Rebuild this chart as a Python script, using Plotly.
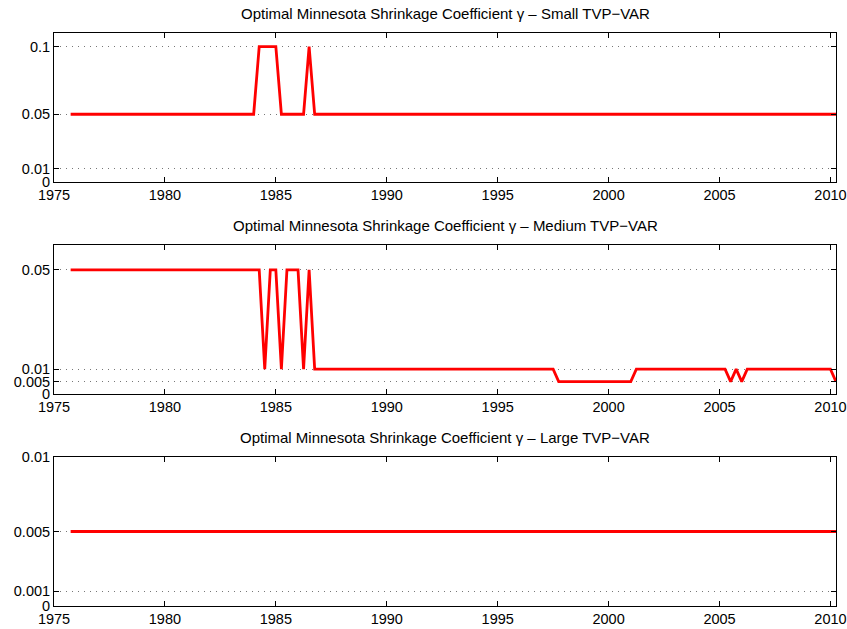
import plotly.graph_objects as go

# Quarterly dates 1975Q4 .. 2010Q2
dates = [1975.75 + 0.25 * i for i in range(139)]

# run-length encoded values (value, number of quarters)
small_runs = [(0.05, 34), (0.1, 4), (0.05, 5), (0.1, 1), (0.05, 95)]
medium_runs = [(0.05, 35), (0.01, 1), (0.05, 2), (0.01, 1), (0.05, 3), (0.01, 1),
               (0.05, 1), (0.01, 44), (0.005, 14), (0.01, 17), (0.005, 1),
               (0.01, 1), (0.005, 1), (0.01, 16), (0.005, 1)]
large_runs = [(0.005, 139)]


def expand(runs):
    out = []
    for v, n in runs:
        out += [v] * n
    return out


small = expand(small_runs)
medium = expand(medium_runs)
large = expand(large_runs)

titles = ["Optimal Minnesota Shrinkage Coefficient γ – Small TVP−VAR",
          "Optimal Minnesota Shrinkage Coefficient γ – Medium TVP−VAR",
          "Optimal Minnesota Shrinkage Coefficient γ – Large TVP−VAR"]
yticks = [[0, 0.01, 0.05, 0.1], [0, 0.005, 0.01, 0.05], [0, 0.001, 0.005, 0.01]]
yticktext = [["0", "0.01", "0.05", "0.1"], ["0", "0.005", "0.01", "0.05"],
             ["0", "0.001", "0.005", "0.01"]]
yranges = [[0, 0.11], [0, 0.06], [0, 0.01]]
xticks = [1975, 1980, 1985, 1990, 1995, 2000, 2005, 2010]
xrange_ = [1975, 2010.25]

series = [small, medium, large]
domains = [[0.74, 1.0], [0.37, 0.63], [0.0, 0.26]]

FONT = "Liberation Sans, Arial, Helvetica, sans-serif"
fig = go.Figure()
layout = dict(
    width=847, height=629,
    margin=dict(l=54, r=11, t=33, b=23, autoexpand=False),
    paper_bgcolor="white", plot_bgcolor="white",
    showlegend=False,
    font=dict(family=FONT, size=13, color="black"),
    annotations=[],
)
for i in range(3):
    xa = "x" if i == 0 else f"x{i+1}"
    ya = "y" if i == 0 else f"y{i+1}"
    fig.add_trace(go.Scatter(x=dates, y=series[i], mode="lines",
                             line=dict(color="#ff0000", width=2.8),
                             xaxis=xa, yaxis=ya, hoverinfo="skip"))
    xkey = "xaxis" if i == 0 else f"xaxis{i+1}"
    ykey = "yaxis" if i == 0 else f"yaxis{i+1}"
    layout[xkey] = dict(
        domain=[0, 1], anchor=ya, range=xrange_, automargin=False,
        tickmode="array", tickvals=xticks, ticktext=[str(t) for t in xticks],
        ticks="inside", ticklen=5, tickcolor="black",
        showline=True, linecolor="black", linewidth=1, mirror="ticks",
        showgrid=False, zeroline=False,
        tickfont=dict(size=14.5, family=FONT, color="black"),
    )
    layout[ykey] = dict(
        domain=domains[i], anchor=xa, range=yranges[i], automargin=False,
        tickmode="array", tickvals=yticks[i], ticktext=yticktext[i],
        ticks="inside", ticklen=5, tickcolor="black",
        showline=True, linecolor="black", linewidth=1, mirror="ticks",
        showgrid=True, gridcolor="#777777", griddash="1px,5px", gridwidth=1,
        zeroline=False,
        tickfont=dict(size=14.5, family=FONT, color="black"),
    )
    layout["annotations"].append(dict(
        text=titles[i], xref="paper", yref="paper", x=0.5, y=domains[i][1],
        yshift=9, xanchor="center", yanchor="bottom", showarrow=False,
        font=dict(size=15, family=FONT, color="black")))

fig.update_layout(**layout)
fig.write_html("out.html")
